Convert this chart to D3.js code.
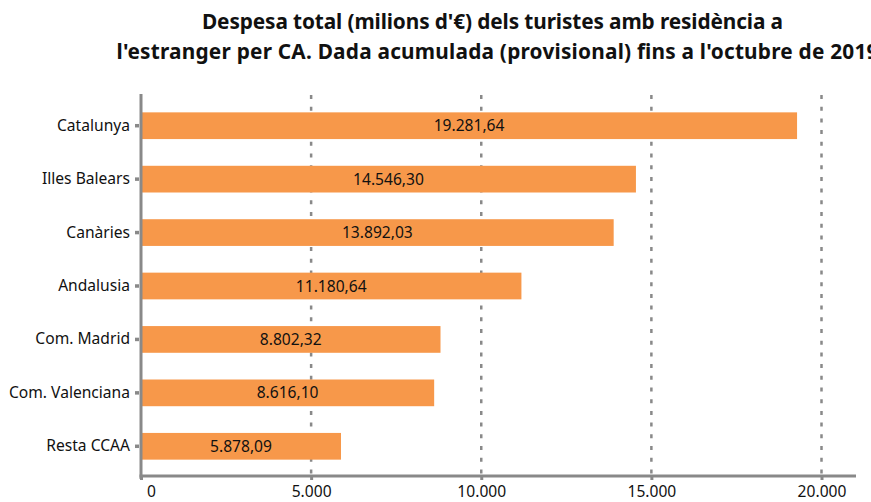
<!DOCTYPE html>
<html><head><meta charset="utf-8">
<script src="https://cdn.jsdelivr.net/npm/d3@7"></script>
<style>body{margin:0;background:#fff;} svg{display:block;font-family:"Noto Sans",sans-serif;}</style>
</head><body>
<svg id="c" width="871" height="502"></svg>
<script>
const categories = ["Catalunya","Illes Balears","Canàries","Andalusia","Com. Madrid","Com. Valenciana","Resta CCAA"];
const values = [19281.64,14546.30,13892.03,11180.64,8802.32,8616.10,5878.09];
const xTicks = [0,5000,10000,15000,20000];
const titleLines = ["Despesa total (milions d'€) dels turistes amb residència a","l'estranger per CA. Dada acumulada (provisional) fins a l'octubre de 2019"];

const locale = d3.formatLocale({decimal:",",thousands:".",grouping:[3],currency:["","€"]});
const fmtVal = locale.format(",.2f");
const fmtTick = locale.format(",d");

const svg = d3.select("#c");
const axisColor = "#898989";
const x = d3.scaleLinear().domain([0,20000]).range([141,821.5]);
const y = d3.scaleBand().domain(categories).range([99,473]).paddingInner(0.5).paddingOuter(0.25);

// title
const tl = [{x:492.5,anchor:"middle",len:581},{x:116.5,anchor:"start",len:762}];
svg.append("g").selectAll("text").data(titleLines).join("text")
  .attr("x",(d,i)=>tl[i].x).attr("y",(d,i)=>29+i*30)
  .attr("text-anchor",(d,i)=>tl[i].anchor).attr("textLength",(d,i)=>tl[i].len).attr("lengthAdjust","spacing")
  .attr("font-size",20.8).attr("font-weight","bold").attr("fill","#111")
  .text(d=>d);

// grid
svg.append("g").selectAll("line").data(xTicks.slice(1)).join("line")
  .attr("x1",d=>x(d)).attr("x2",d=>x(d)).attr("y1",95).attr("y2",476)
  .attr("stroke",axisColor).attr("stroke-width",2.5).attr("stroke-dasharray","4,7.7");

// bars
svg.append("g").selectAll("rect").data(values).join("rect")
  .attr("x",x(0)).attr("y",(d,i)=>y(categories[i]))
  .attr("width",d=>x(d)-x(0)).attr("height",y.bandwidth())
  .attr("fill","#f7984a");

svg.append("g").selectAll("text").data(values).join("text")
  .attr("x",d=>(x(0)+x(d))/2).attr("y",(d,i)=>y(categories[i])+y.bandwidth()/2)
  .attr("dy","0.36em").attr("text-anchor","middle").attr("font-size",15.6).attr("fill","#111")
  .text(d=>fmtVal(d));

// x axis
const xAxis = svg.append("g").attr("transform","translate(0,476)")
  .call(d3.axisBottom(x).tickValues(xTicks).tickFormat(fmtTick).tickSize(4).tickPadding(6));
xAxis.select(".domain").remove();
xAxis.selectAll(".tick line").attr("stroke",axisColor).attr("stroke-width",3);
xAxis.selectAll(".tick text").attr("font-size",15.6).attr("fill","#111").attr("font-family","Noto Sans")
  .attr("dx",(d)=> d===0 ? 10 : 0);
svg.append("line").attr("x1",139.5).attr("x2",856).attr("y1",476).attr("y2",476)
  .attr("stroke",axisColor).attr("stroke-width",3);

// y axis
const yAxis = svg.append("g").attr("transform","translate(141,0)")
  .call(d3.axisLeft(y).tickSize(6).tickPadding(5));
yAxis.select(".domain").remove();
yAxis.selectAll(".tick line").attr("stroke",axisColor).attr("stroke-width",3.5).attr("x2",-2).attr("x1",-6);
yAxis.selectAll(".tick text").attr("font-size",15.6).attr("fill","#111").attr("font-family","Noto Sans").attr("x",-11);
svg.append("line").attr("x1",141).attr("x2",141).attr("y1",94).attr("y2",479)
  .attr("stroke",axisColor).attr("stroke-width",3);
</script>
</body></html>
